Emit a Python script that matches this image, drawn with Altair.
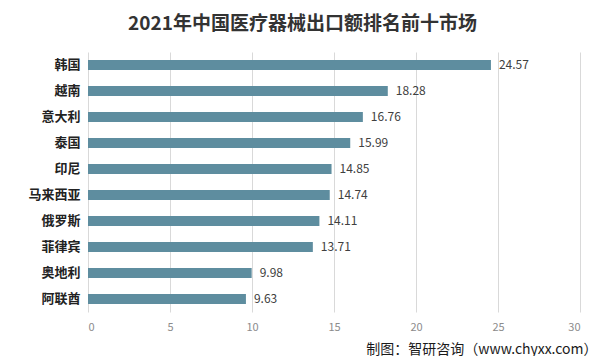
import altair as alt
import pandas as pd

countries = ["韩国", "越南", "意大利", "泰国", "印尼", "马来西亚", "俄罗斯", "菲律宾", "奥地利", "阿联酋"]
values = [24.57, 18.28, 16.76, 15.99, 14.85, 14.74, 14.11, 13.71, 9.98, 9.63]
x_ticks = [0, 5, 10, 15, 20, 25, 30]

df = pd.DataFrame({"country": countries, "value": values})

FONT = "Noto Sans CJK SC"

y_enc = alt.Y(
    "country:N",
    sort=countries,
    title=None,
    scale=alt.Scale(paddingInner=0.62, paddingOuter=0.31),
    axis=alt.Axis(
        labelFont=FONT,
        labelFontSize=13,
        labelFontWeight="bold",
        labelColor="#222222",
        labelPadding=8,
        ticks=False,
        domain=False,
        minExtent=80,
        maxExtent=80,
    ),
)

x_enc = alt.X(
    "value:Q",
    scale=alt.Scale(domain=[0, 30]),
    title="制图：智研咨询（www.chyxx.com）",
    axis=alt.Axis(
        values=x_ticks,
        format="d",
        labelFont=FONT,
        labelFontSize=11,
        labelColor="#8c8c8c",
        labelPadding=9,
        ticks=False,
        domain=False,
        grid=True,
        gridColor="#d9d9d9",
        gridWidth=1,
        titleFont=FONT,
        titleFontSize=14,
        titleFontWeight="normal",
        titleColor="#1a1a1a",
        titleAnchor="end",
        titleAlign="right",
        titleBaseline="middle",
        titleX=509,
        titleY=37,
    ),
)

bars = alt.Chart(df).mark_bar(color="#5e8d9f").encode(x=x_enc, y=y_enc)

labels = alt.Chart(df).mark_text(
    align="left", baseline="middle", dx=8, font=FONT, fontSize=12, color="#404040"
).encode(
    x="value:Q",
    y=alt.Y("country:N", sort=countries),
    text=alt.Text("value:Q", format=".2f"),
)

chart = (
    alt.layer(bars, labels)
    .properties(
        width=492,
        height=260,
        padding={"left": 0, "top": 7, "right": 0, "bottom": 0},
        title=alt.TitleParams(
            text="2021年中国医疗器械出口额排名前十市场",
            font=FONT,
            fontSize=19,
            fontWeight="bold",
            color="#333333",
            anchor="middle",
            frame="bounds",
            offset=18,
        ),
        background="white",
    )
    .configure_view(stroke=None)
)

chart.save("out.html", embed_options={"renderer": "svg", "actions": False})
